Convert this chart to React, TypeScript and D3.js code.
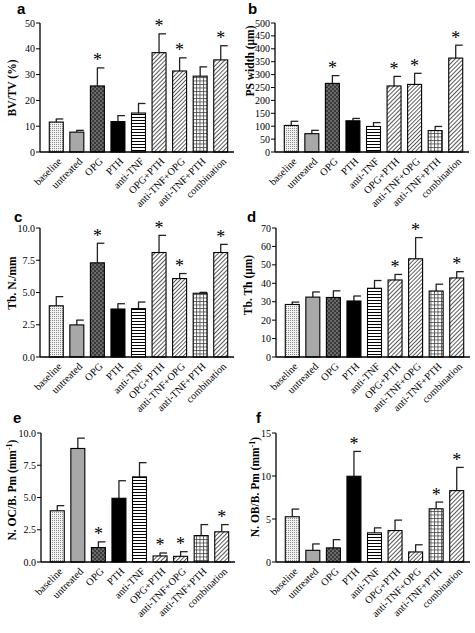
import React from "react";
import * as d3 from "d3";

const categories = [
  "baseline", "untreated", "OPG", "PTH", "anti-TNF",
  "OPG+PTH", "anti-TNF+OPG", "anti-TNF+PTH", "combination",
];

// a: BV/TV (%)
const bvtvMean = [11.6, 7.7, 25.6, 11.8, 15.1, 38.5, 31.4, 29.4, 35.7];
const bvtvErr = [12.8, 8.4, 32.6, 14.1, 18.8, 45.8, 36.5, 33.0, 41.2];
const bvtvStars = [2, 5, 6, 8];
const bvtvTicks = [0, 10, 20, 30, 40, 50];

// b: PS width (µm)
const psMean = [103, 71, 266, 121, 99, 256, 262, 83, 364];
const psErr = [119, 84, 296, 130, 114, 293, 305, 99, 414];
const psStars = [2, 5, 6, 8];
const psTicks = [0, 50, 100, 150, 200, 250, 300, 350, 400, 450, 500];

// c: Tb. N./mm
const tbnMean = [3.97, 2.49, 7.3, 3.72, 3.75, 8.1, 6.08, 4.94, 8.1];
const tbnErr = [4.68, 2.86, 8.82, 4.13, 4.26, 9.43, 6.47, 5.01, 8.73];
const tbnStars = [2, 5, 6, 8];
const tbnTicks = [0, 2.5, 5, 7.5, 10];

// d: Tb. Th (µm)
const tbthMean = [28.5, 32.5, 32.3, 30.4, 37.3, 41.8, 53.3, 35.8, 42.9];
const tbthErr = [29.8, 35.3, 35.9, 33.1, 41.5, 44.8, 64.8, 39.5, 46.3];
const tbthStars = [5, 6, 8];
const tbthTicks = [0, 10, 20, 30, 40, 50, 60, 70];

// e: N. OC/B. Pm (mm-1)
const ocMean = [3.97, 8.8, 1.12, 4.94, 6.6, 0.47, 0.44, 2.05, 2.34];
const ocErr = [4.37, 9.6, 1.56, 6.3, 7.7, 0.7, 0.8, 2.9, 2.9];
const ocStars = [2, 5, 6, 8];
const ocTicks = [0, 2.5, 5, 7.5, 10];

// f: N. OB/B. Pm (mm-1)
const obMean = [5.26, 1.36, 1.64, 9.97, 3.39, 3.66, 1.17, 6.19, 8.3];
const obErr = [6.15, 2.1, 2.6, 12.86, 3.97, 4.87, 2.0, 6.97, 11.0];
const obStars = [3, 7, 8];
const obTicks = [0, 5, 10, 15];

const fills = [
  "url(#pDots)", "#a8a8a8", "url(#pCheck)", "#000000", "url(#pHoriz)",
  "url(#pDiag)", "url(#pDiag2)", "url(#pGrid)", "url(#pDiag)",
];

const SERIF = "'Liberation Serif', 'Times New Roman', Times, serif";
const SANS = "'Liberation Sans', Arial, Helvetica, sans-serif";

type PanelProps = {
  letter: string;
  letterX: number;
  letterY: number;
  axisX: number;
  yTop: number;
  yBottom: number;
  mean: number[];
  err: number[];
  stars: number[];
  ticks: number[];
  tickFmt: (v: number) => string;
  label: React.ReactNode;
  labelX: number;
  labelY: number;
};

function Panel(p: PanelProps) {
  const maxV = p.ticks[p.ticks.length - 1];
  const y = d3.scaleLinear().domain([0, maxV]).range([p.yBottom, p.yTop]);
  const x = d3
    .scaleBand<string>()
    .domain(categories)
    .range([p.axisX + 6, p.axisX + 6 + 185])
    .paddingInner(0.32)
    .paddingOuter(0.16);
  const bw = x.bandwidth();
  const axisEnd = p.axisX + 194;
  return (
    <g>
      <text x={p.letterX} y={p.letterY} fontFamily={SANS} fontWeight="bold" fontSize={15}>
        {p.letter}
      </text>
      <text
        transform={`translate(${p.labelX},${p.labelY}) rotate(-90)`}
        textAnchor="middle"
        fontFamily={SERIF}
        fontWeight="bold"
        fontSize={11.5}
      >
        {p.label}
      </text>
      {categories.map((c, i) => {
        const x0 = x(c)!;
        const cx = x0 + bw / 2;
        const top = y(p.mean[i]);
        const et = y(p.err[i]);
        return (
          <g key={c}>
            <line x1={cx} x2={cx} y1={top} y2={et} stroke="#222" strokeWidth={1.3} />
            <line x1={cx - 0.5} x2={cx + 7} y1={et} y2={et} stroke="#222" strokeWidth={1.3} />
            <rect
              x={x0}
              y={top}
              width={bw}
              height={p.yBottom - top}
              fill={fills[i]}
              stroke="#000"
              strokeWidth={1.1}
            />
            {p.stars.includes(i) && (
              <text x={cx} y={et - 1.5} textAnchor="middle" fontFamily={SERIF} fontSize={18}>
                *
              </text>
            )}
            <text
              transform={`translate(${cx + 3.5},${p.yBottom + 7.5}) rotate(-45)`}
              textAnchor="end"
              dy="0.35em"
              fontFamily={SERIF}
              fontSize={10.3}
            >
              {c}
            </text>
          </g>
        );
      })}
      <line x1={p.axisX} x2={p.axisX} y1={p.yTop} y2={p.yBottom} stroke="#000" strokeWidth={1.3} />
      <line x1={p.axisX} x2={axisEnd} y1={p.yBottom} y2={p.yBottom} stroke="#000" strokeWidth={1.3} />
      {p.ticks.map((t) => (
        <g key={t}>
          <line x1={p.axisX - 4} x2={p.axisX} y1={y(t)} y2={y(t)} stroke="#000" strokeWidth={1} />
          <text
            x={p.axisX - 5}
            y={y(t)}
            dy="0.35em"
            textAnchor="end"
            fontFamily={SERIF}
            fontSize={10}
          >
            {p.tickFmt(t)}
          </text>
        </g>
      ))}
    </g>
  );
}

const fmtInt = d3.format("d");
const fmt1 = d3.format(".1f");

export default function App() {
  return (
    <svg
      width={475}
      height={633}
      style={{ position: "absolute", left: 0, top: 0, background: "#fff" }}
    >
      <defs>
        <pattern id="pDots" width={2} height={2} patternUnits="userSpaceOnUse">
          <rect width={2} height={2} fill="#f2f2f2" />
          <rect width={1} height={1} fill="#8a8a8a" />
        </pattern>
        <pattern id="pCheck" width={4} height={4} patternUnits="userSpaceOnUse">
          <rect width={4} height={4} fill="#6a6a6a" />
          <rect width={2} height={2} fill="#3a3a3a" />
          <rect x={2} y={2} width={2} height={2} fill="#3a3a3a" />
        </pattern>
        <pattern id="pHoriz" width={3} height={3} patternUnits="userSpaceOnUse">
          <rect width={3} height={3} fill="#fff" />
          <line x1={0} x2={3} y1={0.5} y2={0.5} stroke="#000" strokeWidth={1} />
        </pattern>
        <pattern
          id="pDiag"
          width={3}
          height={3}
          patternUnits="userSpaceOnUse"
          patternTransform="rotate(45)"
        >
          <rect width={3} height={3} fill="#fff" />
          <line x1={0} x2={0} y1={0} y2={3} stroke="#111" strokeWidth={1.4} />
        </pattern>
        <pattern
          id="pDiag2"
          width={2.8}
          height={2.8}
          patternUnits="userSpaceOnUse"
          patternTransform="rotate(45)"
        >
          <rect width={2.8} height={2.8} fill="#fff" />
          <line x1={0} x2={0} y1={0} y2={2.8} stroke="#111" strokeWidth={1.3} />
        </pattern>
        <pattern id="pGrid" width={3.5} height={3.5} patternUnits="userSpaceOnUse">
          <rect width={3.5} height={3.5} fill="#fff" />
          <line x1={0} x2={3.5} y1={0.5} y2={0.5} stroke="#444" strokeWidth={0.8} />
          <line x1={0.5} x2={0.5} y1={0} y2={3.5} stroke="#444" strokeWidth={0.8} />
        </pattern>
      </defs>

      <Panel
        letter="a" letterX={17} letterY={14}
        axisX={40} yTop={23} yBottom={152}
        mean={bvtvMean} err={bvtvErr} stars={bvtvStars}
        ticks={bvtvTicks} tickFmt={fmtInt}
        label="BV/TV (%)" labelX={16} labelY={88}
      />
      <Panel
        letter="b" letterX={248} letterY={14}
        axisX={275} yTop={23} yBottom={152}
        mean={psMean} err={psErr} stars={psStars}
        ticks={psTicks} tickFmt={fmtInt}
        label="PS width (μm)" labelX={254} labelY={61}
      />
      <Panel
        letter="c" letterX={14} letterY={222}
        axisX={40} yTop={228} yBottom={357}
        mean={tbnMean} err={tbnErr} stars={tbnStars}
        ticks={tbnTicks} tickFmt={fmt1}
        label="Tb. N./mm" labelX={16} labelY={283}
      />
      <Panel
        letter="d" letterX={247} letterY={222}
        axisX={276} yTop={228} yBottom={357}
        mean={tbthMean} err={tbthErr} stars={tbthStars}
        ticks={tbthTicks} tickFmt={fmtInt}
        label="Tb. Th (μm)" labelX={252} labelY={285}
      />
      <Panel
        letter="e" letterX={13} letterY={423}
        axisX={41} yTop={433} yBottom={562}
        mean={ocMean} err={ocErr} stars={ocStars}
        ticks={ocTicks} tickFmt={fmt1}
        label={
          <>
            N. OC/B. Pm (mm
            <tspan baselineShift="super" fontSize={8}>-1</tspan>)
          </>
        }
        labelX={16} labelY={490}
      />
      <Panel
        letter="f" letterX={256} letterY={423}
        axisX={276} yTop={433} yBottom={562}
        mean={obMean} err={obErr} stars={obStars}
        ticks={obTicks} tickFmt={fmtInt}
        label={
          <>
            N. OB/B. Pm (mm
            <tspan baselineShift="super" fontSize={8}>-1</tspan>)
          </>
        }
        labelX={259} labelY={487}
      />
    </svg>
  );
}
